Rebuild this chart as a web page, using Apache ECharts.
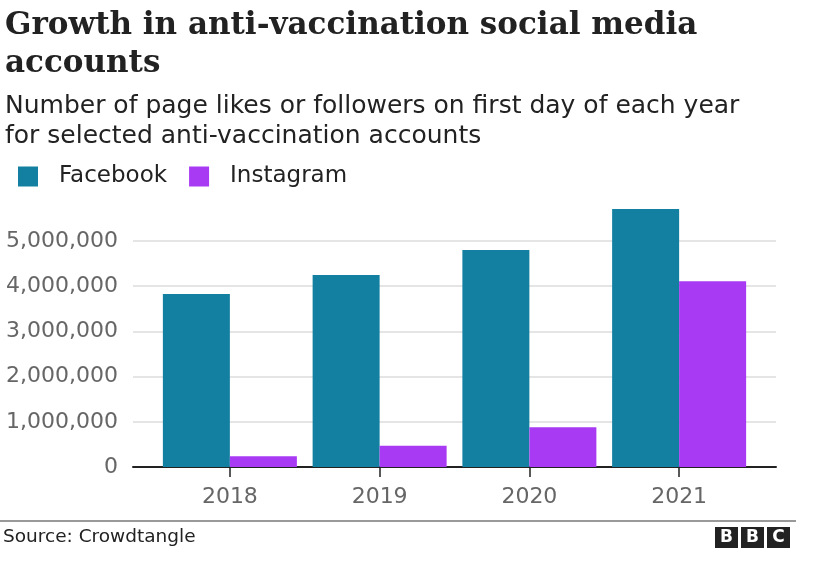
<!DOCTYPE html>
<html>
<head>
<meta charset="utf-8">
<script src="https://cdn.jsdelivr.net/npm/echarts@6/dist/echarts.min.js"></script>
<style>
  html, body { margin: 0; padding: 0; background: #fff; }
  #chart { width: 817px; height: 578px; }
</style>
</head>
<body>
<div id="chart"></div>
<script>
var years = ['2018', '2019', '2020', '2021'];
var facebook = [3830000, 4250000, 4800000, 5710000];
var instagram = [240000, 470000, 880000, 4110000];
var yTicks = [0, 1000000, 2000000, 3000000, 4000000, 5000000];

var sans = 'DejaVu Sans';

window.onload = function () {
    var chartDom = document.getElementById('chart');
    var myChart = echarts.init(chartDom);
    var option;

    option = {
        animation: false,
        title: [
            {
                text: 'Growth in anti-vaccination social media\naccounts',
                left: 5,
                top: 7,
                padding: 0,
                textStyle: {
                    fontFamily: 'DejaVu Serif',
                    fontWeight: 'bold',
                    fontSize: 31,
                    lineHeight: 38,
                    color: '#222'
                }
            },
            {
                text: 'Number of page likes or followers on first day of each year\nfor selected anti-vaccination accounts',
                left: 5,
                top: 91,
                padding: 0,
                textStyle: {
                    fontFamily: sans,
                    fontWeight: 'normal',
                    fontSize: 25,
                    lineHeight: 30,
                    color: '#222'
                }
            }
        ],
        legend: {
            data: ['Facebook', 'Instagram'],
            left: 18,
            top: 165,
            padding: 0,
            icon: 'rect',
            itemWidth: 20,
            itemHeight: 20,
            itemGap: 22,
            selectedMode: false,
            textStyle: {
                fontFamily: sans,
                fontSize: 23,
                color: '#222',
                padding: [0, 0, 0, 16]
            }
        },
        grid: [
            { left: 133, width: 643, top: 241, height: 226 },
            { left: 155, width: 599, top: 241, height: 226 }
        ],
        xAxis: [
            {
                gridIndex: 0,
                type: 'value',
                min: 0,
                max: 1,
                axisLine: { show: true, lineStyle: { color: '#222', width: 2 } },
                axisTick: { show: false },
                axisLabel: { show: false },
                splitLine: { show: false }
            },
            {
                gridIndex: 1,
                type: 'category',
                data: years,
                axisLine: { show: false },
                axisTick: {
                    show: true,
                    alignWithLabel: true,
                    length: 10,
                    lineStyle: { color: '#222', width: 1.5 }
                },
                axisLabel: {
                    fontFamily: sans,
                    fontSize: 22,
                    color: '#666',
                    margin: 19
                }
            }
        ],
        yAxis: [
            {
                gridIndex: 0,
                type: 'value',
                min: yTicks[0],
                max: yTicks[yTicks.length - 1],
                interval: yTicks[1] - yTicks[0],
                axisLine: { show: false },
                axisTick: { show: false },
                axisLabel: {
                    fontFamily: sans,
                    fontSize: 22,
                    color: '#666',
                    margin: 15,
                    formatter: function (v) {
                        return v.toLocaleString('en-US');
                    }
                },
                splitLine: { lineStyle: { color: '#dcdcdc', width: 1.5 } }
            },
            {
                gridIndex: 1,
                type: 'value',
                min: yTicks[0],
                max: yTicks[yTicks.length - 1],
                show: false,
                splitLine: { show: false }
            }
        ],
        graphic: [
            {
                type: 'line',
                shape: { x1: 0, y1: 521, x2: 796, y2: 521 },
                style: { stroke: '#777', lineWidth: 1.5 }
            },
            {
                type: 'text',
                left: 3,
                top: 528,
                style: {
                    text: 'Source: Crowdtangle',
                    font: '18.5px "DejaVu Sans"',
                    fill: '#222'
                }
            },
            {
                type: 'group',
                left: 715,
                top: 527,
                children: [
                    { type: 'rect', shape: { x: 0, y: 0, width: 23, height: 21 }, style: { fill: '#222' } },
                    { type: 'rect', shape: { x: 26, y: 0, width: 23, height: 21 }, style: { fill: '#222' } },
                    { type: 'rect', shape: { x: 52, y: 0, width: 23, height: 21 }, style: { fill: '#222' } },
                    { type: 'text', x: 11.5, y: 11, style: { text: 'B', font: 'bold 17px "DejaVu Sans"', fill: '#fff', align: 'center', verticalAlign: 'middle' } },
                    { type: 'text', x: 37.5, y: 11, style: { text: 'B', font: 'bold 17px "DejaVu Sans"', fill: '#fff', align: 'center', verticalAlign: 'middle' } },
                    { type: 'text', x: 63.5, y: 11, style: { text: 'C', font: 'bold 17px "DejaVu Sans"', fill: '#fff', align: 'center', verticalAlign: 'middle' } }
                ]
            }
        ],
        series: [
            {
                name: 'Facebook',
                type: 'bar',
                xAxisIndex: 1,
                yAxisIndex: 1,
                barWidth: 67,
                barGap: '0%',
                clip: false,
                itemStyle: { color: '#1380a1' },
                data: facebook
            },
            {
                name: 'Instagram',
                type: 'bar',
                xAxisIndex: 1,
                yAxisIndex: 1,
                barWidth: 67,
                barGap: '0%',
                clip: false,
                itemStyle: { color: '#a83af4' },
                data: instagram
            }
        ]
    };

    myChart.setOption(option);
};
</script>
</body>
</html>
